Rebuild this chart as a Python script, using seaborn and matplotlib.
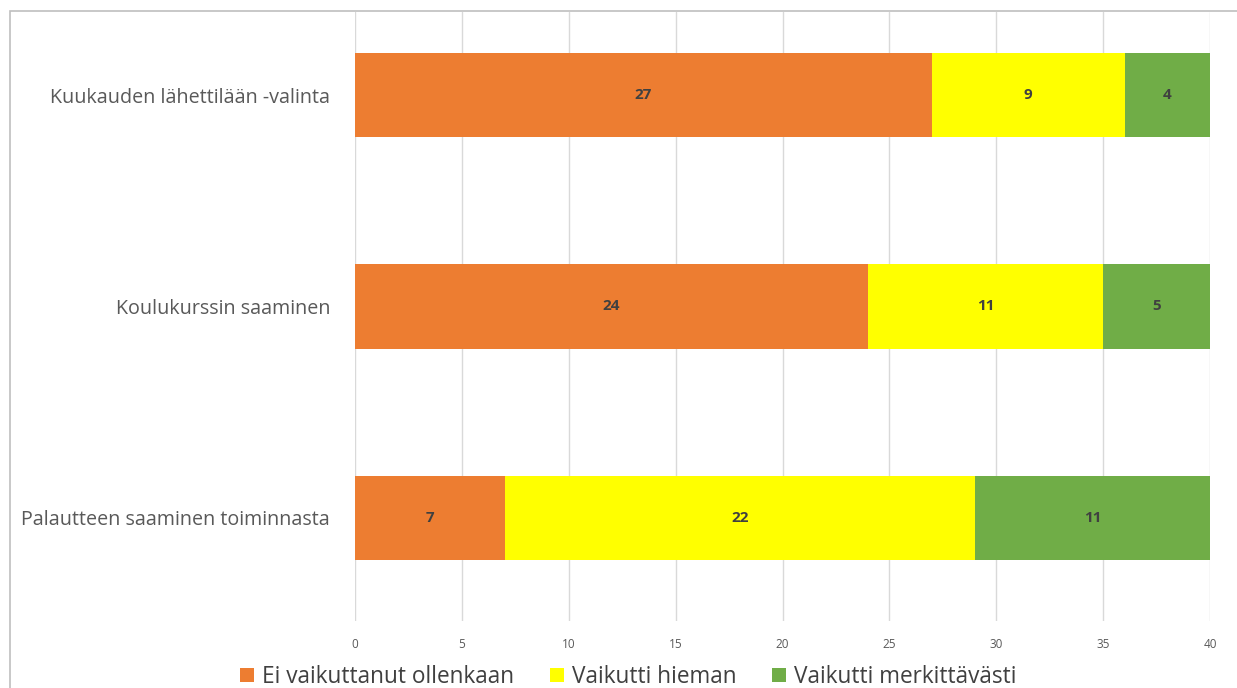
import matplotlib
matplotlib.use("Agg")
import matplotlib.pyplot as plt
from matplotlib.patches import Rectangle, Patch
import seaborn as sns
import numpy as np
import pandas as pd

categories = ["Kuukauden lähettilään -valinta", "Koulukurssin saaminen", "Palautteen saaminen toiminnasta"]
series_names = ["Ei vaikuttanut ollenkaan", "Vaikutti hieman", "Vaikutti merkittävästi"]
ei_vaikuttanut = [27, 24, 7]
vaikutti_hieman = [9, 11, 22]
vaikutti_merkittavasti = [4, 5, 11]
x_ticks = [0, 5, 10, 15, 20, 25, 30, 35, 40]
colors = ["#ED7D31", "#FFFF00", "#70AD47"]

sns.set_theme(style="white")
plt.rcParams["font.family"] = ["Open Sans", "DejaVu Sans"]

W, H = 1237, 688
fig = plt.figure(figsize=(W / 100, H / 100), dpi=100)
ax = fig.add_axes([355 / W, 1 - 621 / H, (1210 - 355) / W, (621 - 12) / H])

series = [ei_vaikuttanut, vaikutti_hieman, vaikutti_merkittavasti]
cum = np.cumsum(np.array(series, dtype=float), axis=0)

# draw from the longest cumulative bar to the shortest so that they stack visually
for k in range(len(series) - 1, -1, -1):
    df = pd.DataFrame({"cat": categories, "val": cum[k]})
    sns.barplot(data=df, x="val", y="cat", orient="h", color=colors[k],
                saturation=1, width=0.4, ax=ax, edgecolor="none", linewidth=0, zorder=3)

for k, vals in enumerate(series):
    for i, v in enumerate(vals):
        ax.text(cum[k][i] - v / 2, i, str(v), ha="center", va="center",
                fontsize=11, fontweight="bold", color="#404040", zorder=4)

ax.set_xlim(0, 40)
ax.set_ylim(2.488, -0.393)
ax.set_xticks(x_ticks)
ax.set_xticklabels([str(t) for t in x_ticks], fontsize=8.5, color="#595959")
ax.tick_params(axis="x", length=0, pad=12)
ax.tick_params(axis="y", length=0, pad=18, labelsize=14.2, labelcolor="#595959")
ax.set_xlabel("")
ax.set_ylabel("")
ax.grid(axis="x", color="#D9D9D9", linewidth=1, zorder=0)
ax.grid(axis="y", visible=False)
for s in ax.spines.values():
    s.set_visible(False)

handles = [Patch(facecolor=c, edgecolor="none") for c in colors]
fig.legend(handles, series_names, loc="center", bbox_to_anchor=(0.508, 1 - 677 / H),
           ncol=3, frameon=False, fontsize=16.3, handlelength=0.6, handleheight=0.6,
           handletextpad=0.35, columnspacing=1.6, labelcolor="#404040")

fig.patches.append(Rectangle((10 / W, -0.05), 1.1, 1 - 11 / H + 0.05, transform=fig.transFigure,
                             fill=False, edgecolor="#BFBFBF", linewidth=1.2, zorder=0))

fig.savefig("out.png", dpi=100, facecolor="white")
